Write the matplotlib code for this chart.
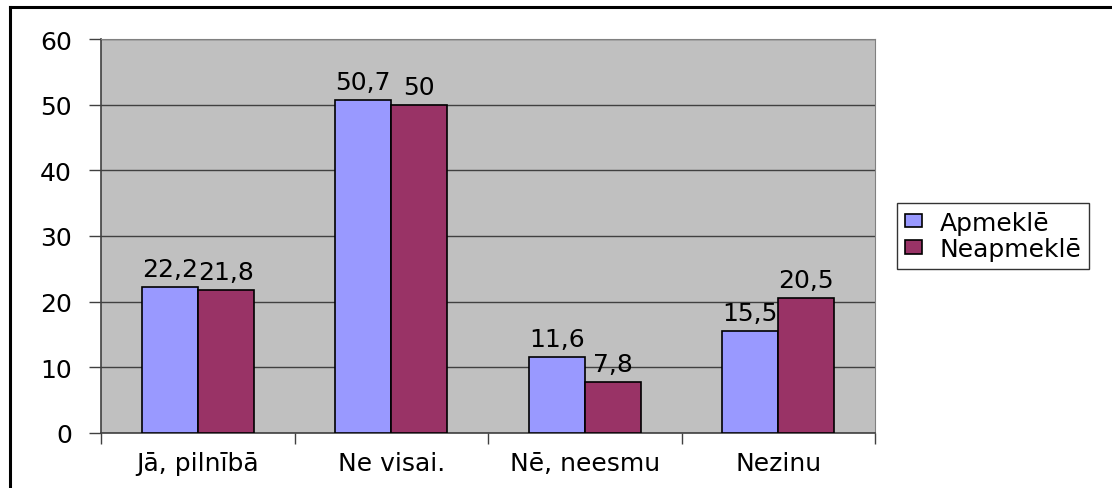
import numpy as np
import matplotlib.pyplot as plt
from matplotlib.patches import Rectangle
from matplotlib.lines import Line2D

# wide sans to get close to the stretched Arial look of the original
plt.rcParams['font.family'] = ['DejaVu Sans']

#%% Data
categories = ['Jā, pilnībā', 'Ne visai.', 'Nē, neesmu', 'Nezinu']
series_names = ['Apmeklē', 'Neapmeklē']
apmekle = [22.2, 50.7, 11.6, 15.5]
neapmekle = [21.8, 50, 7.8, 20.5]
yticks = [0, 10, 20, 30, 40, 50, 60]

colors = ['#9999FF', '#993366']
fs = 18

#%% Plot
fig = plt.figure(figsize=(11.12, 4.89), dpi=100)
ax = fig.add_axes([101/1112, 55/489, 774/1112, 394/489])
ax.set_facecolor('#C0C0C0')

x = np.arange(len(categories))
w = 0.29
for i, (vals, c) in enumerate(zip([apmekle, neapmekle], colors)):
    pos = x + (i - 0.5) * w
    ax.bar(pos, vals, width=w, color=c, edgecolor='black', linewidth=1.2,
           label=series_names[i], zorder=3)
    for p, v in zip(pos, vals):
        ax.text(p, v + 0.9, f'{v:g}'.replace('.', ','), ha='center', va='bottom',
                fontsize=fs)

ax.set_xlim(-0.5, len(categories) - 0.5)
ax.set_ylim(0, 60)
ax.set_yticks(yticks)
ax.tick_params(axis='y', labelsize=fs, length=9, width=1, color='#404040', pad=12)
ax.grid(axis='y', color='#404040', linewidth=1, zorder=1)
ax.set_axisbelow(True)

ax.set_xticks(x)
ax.set_xticklabels(categories, fontsize=fs)
ax.tick_params(axis='x', length=0, pad=13)
# category boundary ticks
ax.set_xticks(np.arange(-0.5, len(categories) + 0.5), minor=True)
ax.tick_params(axis='x', which='minor', length=8, width=1, color='#404040')

for s in ['top', 'right']:
    ax.spines[s].set_color('#808080')
for s in ['left', 'bottom']:
    ax.spines[s].set_color('#404040')
    ax.spines[s].set_linewidth(1.2)

handles = [Rectangle((0, 0), 1, 1, facecolor=c, edgecolor='black', linewidth=1.2)
           for c in colors]
leg = fig.legend(handles, series_names, loc='upper left',
                 bbox_to_anchor=(897/1112, 1 - 204/489), fontsize=fs,
                 frameon=True, fancybox=False, handlelength=0.7, handleheight=0.45,
                 handletextpad=0.7, borderpad=0.3, labelspacing=0.1,
                 borderaxespad=0)
leg.get_frame().set_edgecolor('black')
leg.get_frame().set_linewidth(1)

# outer chart border (top and left visible)
fig.add_artist(Line2D([10/1112, 10/1112], [0, 1 - 8/489], color='black', lw=2.2,
                      transform=fig.transFigure))
fig.add_artist(Line2D([10/1112, 1], [1 - 8/489, 1 - 8/489], color='black', lw=2.2,
                      transform=fig.transFigure))

fig.savefig('out.png', dpi=100)
